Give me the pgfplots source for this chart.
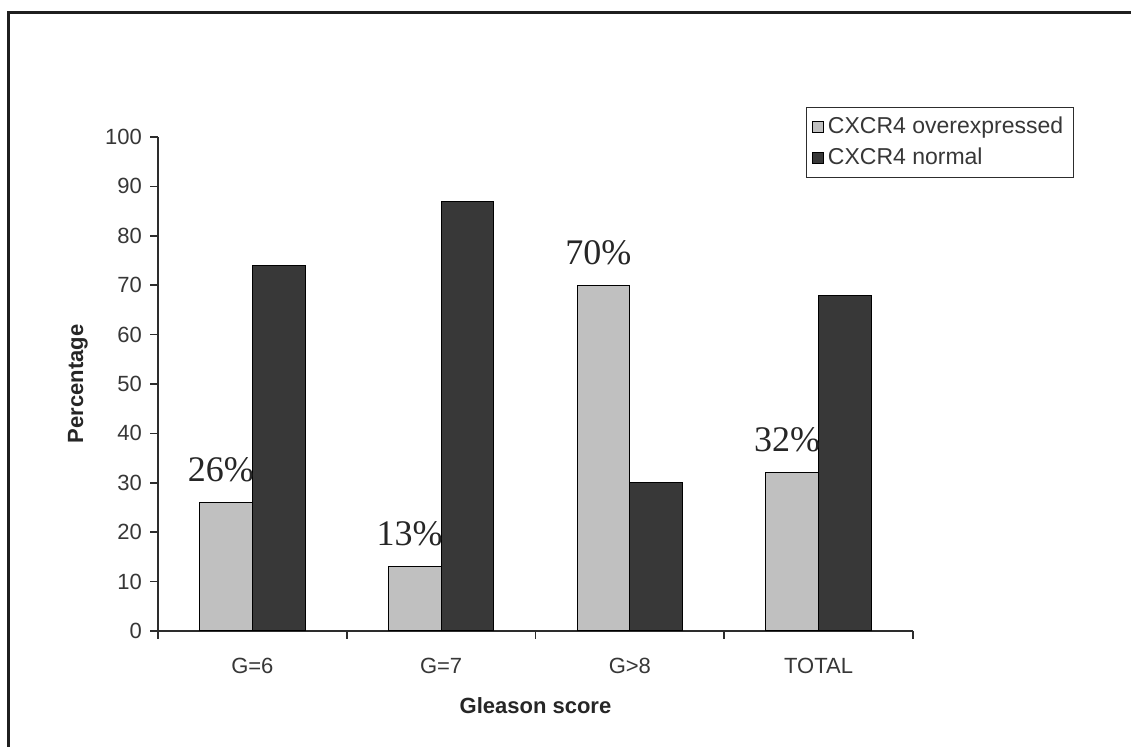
\documentclass[border=0pt]{standalone}
\usepackage{fontspec}
\setmainfont{Liberation Sans}
\newfontfamily\seriffont{Liberation Serif}
\usepackage{pgfplots}
\pgfplotsset{compat=1.18}

\definecolor{barlight}{RGB}{192,192,192}
\definecolor{bardark}{RGB}{56,56,56}
\definecolor{axisgray}{RGB}{45,45,45}
\definecolor{textgray}{RGB}{55,55,55}

\pgfplotsset{
  squarelegend/.style={
    legend image code/.code={
      \draw[##1, draw=black, line width=0.4pt] (0pt,-2.7pt) rectangle (5.4pt,2.7pt);
    }
  }
}

\begin{document}
\begin{tikzpicture}
\path[use as bounding box] (0,0) rectangle (565.5pt,373.5pt);
\fill[white] (0,0) rectangle (565.5pt,373.5pt);
% frame along the top and left edges
\draw[line width=1.6pt, black!88] (4.25pt,0) -- (4.25pt,367.25pt) -- (565.5pt,367.25pt);
\begin{axis}[
  at={(79pt,58pt)}, anchor=south west,
  scale only axis, width=377.5pt, height=247pt,
  ybar=0pt, bar width=0.28,
  xmin=-0.5, xmax=3.5, ymin=0, ymax=100,
  axis x line*=bottom, axis y line*=left,
  axis line style={axisgray, line width=0.8pt, -},
  xtick={0,1,2,3}, xticklabels={G=6,G=7,G>8,TOTAL},
  minor xtick={-0.5,0.5,1.5,2.5,3.5},
  ytick={0,10,...,100},
  tick align=outside,
  major tick length=4pt, minor tick length=4pt,
  major x tick style={draw=none},
  minor x tick style={draw=axisgray, line width=0.8pt},
  major y tick style={draw=axisgray, line width=0.8pt},
  /pgf/number format/assume math mode=true,
  ticklabel style={font=\fontsize{11}{13}\selectfont, text=textgray},
  yticklabel style={xshift=-0.5pt},
  xticklabel style={yshift=-6pt},
  xlabel={\textbf{Gleason score}},
  ylabel={\textbf{Percentage}},
  label style={font=\fontsize{11}{13}\selectfont, text=black!85},
  xlabel style={at={(axis description cs:0.5,-0.152)}, anchor=center},
  ylabel style={at={(axis description cs:-0.106,0.5)}, anchor=center},
  legend style={at={(axis description cs:0.858,1.061)}, anchor=north west,
    draw=axisgray, line width=0.6pt,
    font=\fontsize{11.5}{13.5}\selectfont, text=textgray,
    nodes={inner ysep=2.8pt}},
  legend cell align=left,
]
\addplot[fill=barlight, draw=black, line width=0.5pt, squarelegend,
  nodes near coords={\pgfmathprintnumber{\pgfplotspointmeta}\%},
  nodes near coords style={font=\seriffont\fontsize{18}{18}\selectfont,
    anchor=south, inner sep=0pt, yshift=10pt, xshift=-2.5pt, text=black!85}]
  coordinates {(0,26) (1,13) (2,70) (3,32)};
\addlegendentry{CXCR4 overexpressed}
\addplot[fill=bardark, draw=black, line width=0.5pt, squarelegend]
  coordinates {(0,74) (1,87) (2,30) (3,68)};
\addlegendentry{CXCR4 normal}
\end{axis}
\end{tikzpicture}
\end{document}
